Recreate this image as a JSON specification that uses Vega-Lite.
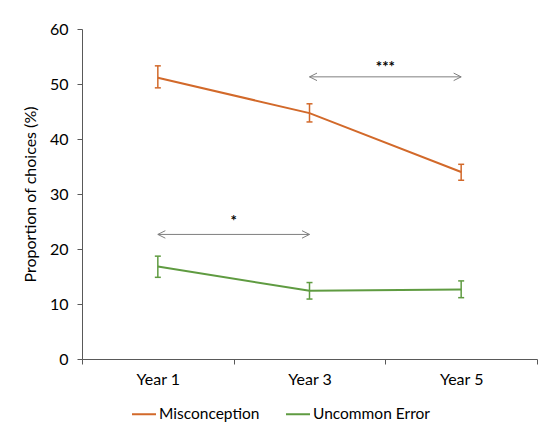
{
  "$schema": "https://vega.github.io/schema/vega-lite/v6.json",
  "width": 455,
  "height": 330,
  "autosize": {"type": "none"},
  "padding": {"left": 82, "top": 29, "right": 9, "bottom": 67},
  "background": "white",
  "config": {
    "view": {"stroke": null},
    "font": "Lato",
    "axis": {"grid": false}
  },
  "datasets": {
    "main": [
      {"series": "Misconception", "year": "Year 1", "value": 51.15, "lo": 49.3, "hi": 53.3},
      {"series": "Misconception", "year": "Year 3", "value": 44.7, "lo": 43.1, "hi": 46.4},
      {"series": "Misconception", "year": "Year 5", "value": 34.0, "lo": 32.5, "hi": 35.4},
      {"series": "Uncommon Error", "year": "Year 1", "value": 16.8, "lo": 14.85, "hi": 18.7},
      {"series": "Uncommon Error", "year": "Year 3", "value": 12.4, "lo": 10.9, "hi": 13.9},
      {"series": "Uncommon Error", "year": "Year 5", "value": 12.65, "lo": 11.15, "hi": 14.2}
    ],
    "ann": [
      {"label": "***", "from": "Year 3", "to": "Year 5", "y": 51.3, "ty": 52.1},
      {"label": "*", "from": "Year 1", "to": "Year 3", "y": 22.65, "ty": 24.1}
    ]
  },
  "layer": [
    {
      "data": {"name": "main"},
      "encoding": {
        "x": {
          "field": "year",
          "type": "ordinal",
          "title": null,
          "scale": {"type": "band", "domain": ["Year 1", "Year 3", "Year 5"], "paddingInner": 0, "paddingOuter": 0},
          "axis": {
            "title": null,
            "labelAngle": 0,
            "tickBand": "extent",
            "labelFontSize": 16,
            "labelColor": "black",
            "labelPadding": 7,
            "tickSize": 5,
            "domainColor": "#595959",
            "tickColor": "#595959"
          }
        },
        "color": {
          "field": "series",
          "type": "nominal",
          "scale": {"domain": ["Misconception", "Uncommon Error"], "range": ["#D2692A", "#5F9B41"]},
          "legend": {
            "orient": "none",
            "legendX": 49,
            "legendY": 372,
            "direction": "horizontal",
            "title": null,
            "symbolType": "stroke",
            "symbolSize": 576,
            "symbolStrokeWidth": 2,
            "labelFontSize": 15.5,
            "labelColor": "black",
            "labelOffset": 2,
            "columnPadding": 22
          }
        }
      },
      "layer": [
        {
          "mark": {"type": "line", "strokeWidth": 2},
          "encoding": {
            "y": {
              "field": "value",
              "type": "quantitative",
              "title": "Proportion of choices (%)",
              "scale": {"domain": [0, 60]},
              "axis": {
                "values": [0, 10, 20, 30, 40, 50, 60],
                "titleFontSize": 16,
                "titleFontWeight": "normal",
                "titleColor": "black",
                "titlePadding": 11,
                "labelFontSize": 16,
                "labelColor": "black",
                "labelPadding": 9,
                "tickSize": 5,
                "domainColor": "#595959",
                "tickColor": "#595959"
              }
            }
          }
        },
        {
          "mark": {"type": "rule", "strokeWidth": 1.5},
          "encoding": {
            "y": {"field": "lo", "type": "quantitative", "title": "Proportion of choices (%)"},
            "y2": {"field": "hi"}
          }
        },
        {
          "mark": {"type": "tick", "size": 6, "thickness": 1.5, "opacity": 1},
          "encoding": {
            "y": {"field": "lo", "type": "quantitative", "title": "Proportion of choices (%)"}
          }
        },
        {
          "mark": {"type": "tick", "size": 6, "thickness": 1.5, "opacity": 1},
          "encoding": {
            "y": {"field": "hi", "type": "quantitative", "title": "Proportion of choices (%)"}
          }
        }
      ]
    },
    {
      "data": {"name": "ann"},
      "layer": [
        {
          "mark": {"type": "rule", "color": "#7f7f7f", "strokeWidth": 1},
          "encoding": {
            "x": {"field": "from", "type": "ordinal", "title": null},
            "x2": {"field": "to"},
            "y": {"field": "y", "type": "quantitative", "title": "Proportion of choices (%)"}
          }
        },
        {
          "mark": {"type": "point", "shape": "M1,-0.5L0,0L1,0.5", "filled": false, "size": 225, "strokeWidth": 1, "color": "#7f7f7f", "opacity": 1},
          "encoding": {
            "x": {"field": "from", "type": "ordinal", "title": null},
            "y": {"field": "y", "type": "quantitative", "title": "Proportion of choices (%)"}
          }
        },
        {
          "mark": {"type": "point", "shape": "M-1,-0.5L0,0L-1,0.5", "filled": false, "size": 225, "strokeWidth": 1, "color": "#7f7f7f", "opacity": 1},
          "encoding": {
            "x": {"field": "to", "type": "ordinal", "title": null},
            "y": {"field": "y", "type": "quantitative", "title": "Proportion of choices (%)"}
          }
        },
        {
          "mark": {"type": "text", "fontSize": 15, "fontWeight": "bold", "color": "black", "baseline": "alphabetic", "align": "center"},
          "encoding": {
            "x": {"field": "from", "type": "ordinal", "bandPosition": 1, "title": null},
            "y": {"field": "ty", "type": "quantitative", "title": "Proportion of choices (%)"},
            "text": {"field": "label"}
          }
        }
      ]
    }
  ]
}
